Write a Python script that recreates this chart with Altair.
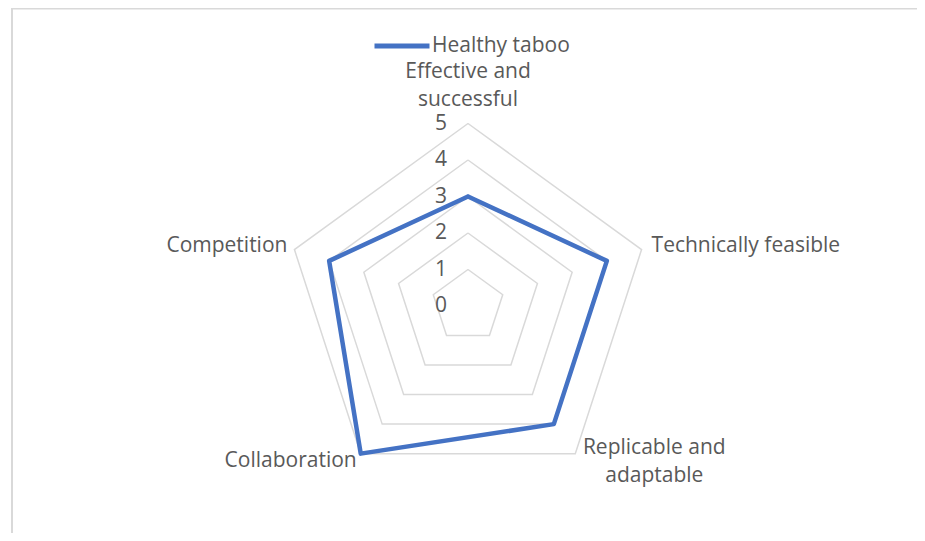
import altair as alt
import pandas as pd

# ---- data ----
categories = ["Effective and successful", "Technically feasible",
              "Replicable and adaptable", "Collaboration", "Competition"]
values = [3, 4, 4, 5, 4]
series_name = "Healthy taboo"
tick_levels = [0, 1, 2, 3, 4, 5]
grid_levels = [1, 2, 3, 4, 5]
label_lines = [["Effective and", "successful"], ["Technically feasible"],
               ["Replicable and", "adaptable"], ["Collaboration"], ["Competition"]]

# ---- layout ----
W, H = 909, 525
CX, CY = 460, 298      # centre of radar in chart pixels
UNIT = 36.5            # pixels per value unit
FONT = "Open Sans"
TXT = "#595959"
GRID = "#d9d9d9"
BLUE = "#4472C4"
FS = 21

n = len(categories)
series_df = pd.DataFrame({"k": list(range(n + 1)),
                          "r": values + values[:1],
                          "series": series_name})
grid_df = pd.DataFrame([{"level": L, "k": k} for L in grid_levels for k in range(n + 1)])
tick_df = pd.DataFrame({"level": tick_levels, "label": [str(t) for t in tick_levels]})
label_df = pd.DataFrame({"k": list(range(n)), "cat": categories,
                         "text": label_lines, "r": [max(tick_levels)] * n})
dummy = pd.DataFrame({"a": [0]})

xs = alt.Scale(domain=[-CX / UNIT, (W - CX) / UNIT], nice=False, zero=False)
ys = alt.Scale(domain=[-(H - CY) / UNIT, CY / UNIT], nice=False, zero=False)

ang = "datum.k * 2 * PI / %d" % n


def polar(ch, rfield):
    return ch.transform_calculate(
        px="%s * sin(%s)" % (rfield, ang),
        py="%s * cos(%s)" % (rfield, ang),
    )


X = alt.X("px:Q", scale=xs, axis=None)
Y = alt.Y("py:Q", scale=ys, axis=None)

grid = polar(alt.Chart(grid_df), "datum.level").mark_line(
    color=GRID, strokeWidth=1.5, strokeJoin="miter"
).encode(x=X, y=Y, detail="level:N", order="k:Q")

line = polar(alt.Chart(series_df), "datum.r").mark_line(
    strokeWidth=4.5, strokeJoin="round", strokeCap="round"
).encode(
    x=X, y=Y, order="k:Q",
    color=alt.Color("series:N", scale=alt.Scale(range=[BLUE]),
                    legend=alt.Legend(title=None, orient="none", legendX=364, legendY=8,
                                      symbolType="stroke", symbolSize=3025,
                                      symbolStrokeWidth=5, labelFont=FONT,
                                      labelFontSize=FS, labelColor=TXT,
                                      labelOffset=0, padding=0)),
)

ticks = alt.Chart(tick_df).transform_calculate(px="0", py="datum.level").mark_text(
    align="right", baseline="middle", dx=-21, font=FONT, fontSize=FS, color=TXT
).encode(x=X, y=Y, text="label:N")

specs = [(0, "center", 0, -52), (1, "left", 10, -4), (2, "center", 79, -6),
         (3, "right", -4, 7), (4, "right", -7, -4)]
label_layers = []
for k, al, dx, dy in specs:
    label_layers.append(
        polar(alt.Chart(label_df), "datum.r").transform_filter("datum.k == %d" % k).mark_text(
            align=al, baseline="middle", dx=dx, dy=dy, font=FONT, fontSize=FS,
            color=TXT, lineHeight=28
        ).encode(x=X, y=Y, text="text")
    )

frame_top = alt.Chart(dummy).mark_rule(color=GRID, strokeWidth=2).encode(
    x=alt.value(4), x2=alt.value(W), y=alt.value(0.5))
frame_left = alt.Chart(dummy).mark_rule(color=GRID, strokeWidth=2).encode(
    x=alt.value(4), y=alt.value(0), y2=alt.value(H))

chart = alt.layer(frame_top, frame_left, grid, line, ticks, *label_layers).properties(
    width=W, height=H, autosize="none", padding=0
).configure_view(stroke=None)

chart.save("out.html", embed_options={"renderer": "svg", "actions": False})
